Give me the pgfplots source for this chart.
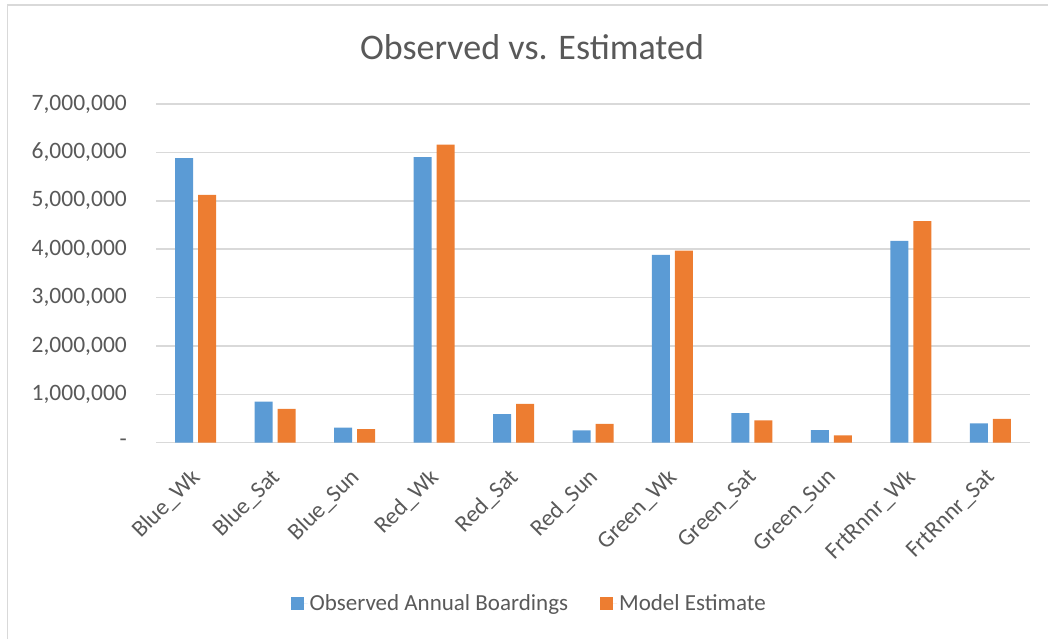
\documentclass[border=0pt]{standalone}
\usepackage{pgfplots}
\pgfplotsset{compat=1.18}
\usepackage{pgfplotstable}
\usepackage{fontspec}
\setmainfont{Carlito}

\definecolor{obsblue}{HTML}{5B9BD5}
\definecolor{estorange}{HTML}{ED7D31}
\definecolor{gridgray}{HTML}{D9D9D9}
\definecolor{txtgray}{HTML}{595959}

% annual boardings per route / day type
\pgfplotstableread{
x obs est
0 5880000 5120000
1 850000 700000
2 310000 280000
3 5900000 6160000
4 590000 800000
5 255000 390000
6 3880000 3970000
7 610000 460000
8 260000 150000
9 4170000 4580000
10 400000 490000
}\boardings

\begin{document}
\begin{tikzpicture}
\useasboundingbox (0pt,0pt) rectangle (1048pt,-639pt);
\draw[gridgray, line width=1.5pt] (7.5pt,-639pt) -- (7.5pt,-5pt) -- (1048pt,-5pt);
\begin{axis}[
    at={(156pt,-442.7pt)}, anchor=south west,
    scale only axis,
    width=874pt, height=338.7pt,
    ybar=5pt, bar width=18pt,
    xmin=-0.5, xmax=10.5,
    ymin=0, ymax=7000000,
    xtick=data,
    xticklabels={Blue\_Wk, Blue\_Sat, Blue\_Sun, Red\_Wk, Red\_Sat, Red\_Sun,
        Green\_Wk, Green\_Sat, Green\_Sun, FrtRnnr\_Wk, FrtRnnr\_Sat},
    ytick={0,1000000,2000000,3000000,4000000,5000000,6000000,7000000},
    yticklabels={{-},{1,000,000},{2,000,000},{3,000,000},{4,000,000},{5,000,000},{6,000,000},{7,000,000}},
    scaled y ticks=false,
    ymajorgrids,
    grid style={gridgray, line width=1.5pt},
    axis line style={draw=none},
    major tick length=0pt,
    tick label style={font=\fontsize{23.5}{28}\selectfont, text=txtgray},
    yticklabel style={anchor=east, inner sep=0pt, xshift=-29pt},
    xticklabel style={xshift=1pt, yshift=-31pt, rotate=45, anchor=east, inner sep=0pt},
    legend columns=2,
    legend style={at={(axis description cs:0.427,-0.4733)}, anchor=center,
        draw=none, fill=none, font=\fontsize{23}{28}\selectfont, text=txtgray,
        /tikz/every even column/.append style={column sep=30pt}},
    legend image code/.code={\fill[#1] (-2pt,-6.5pt) rectangle (11pt,6.5pt);
        \path (-2pt,0pt) -- (15pt,0pt);},
]
\addplot[fill=obsblue, draw=none] table[x=x, y=obs] {\boardings};
\addplot[fill=estorange, draw=none] table[x=x, y=est] {\boardings};
\legend{Observed Annual Boardings, Model Estimate}
\end{axis}
\node[anchor=base, font=\fontsize{36}{43}\selectfont, text=txtgray] at (532pt,-60pt) {Observed vs. Estimated};
\end{tikzpicture}
\end{document}
